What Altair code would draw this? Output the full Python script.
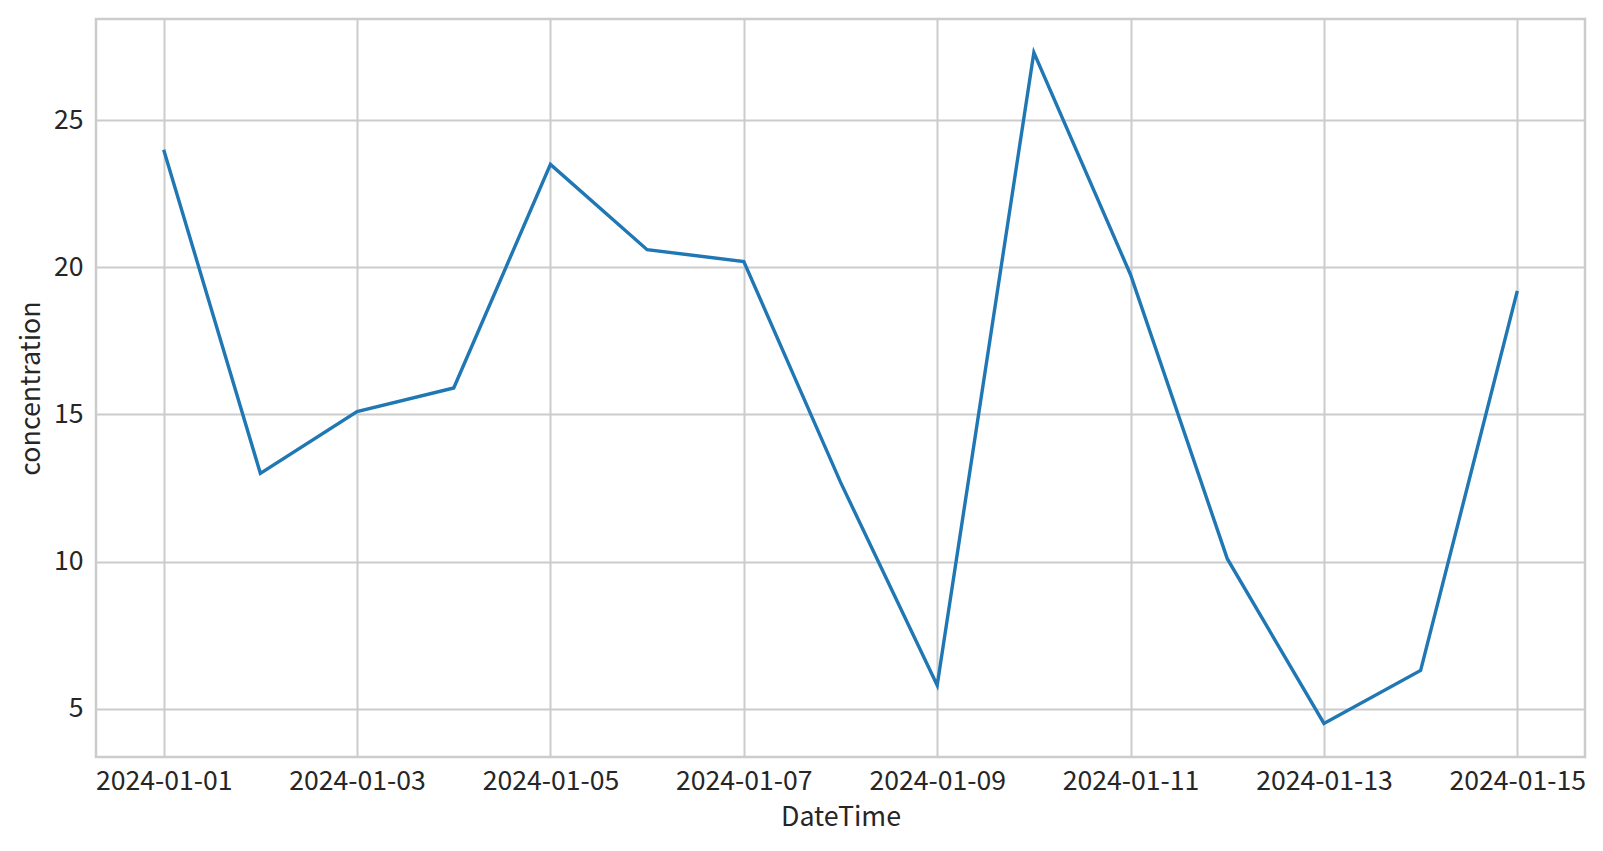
import altair as alt
import pandas as pd
from datetime import datetime, timezone, timedelta

dates = ["2024-01-01", "2024-01-02", "2024-01-03", "2024-01-04", "2024-01-05",
         "2024-01-06", "2024-01-07", "2024-01-08", "2024-01-09", "2024-01-10",
         "2024-01-11", "2024-01-12", "2024-01-13", "2024-01-14", "2024-01-15"]
concentration = [24.0, 13.0, 15.1, 15.9, 23.5, 20.6, 20.2, 12.7, 5.8, 27.3,
                 19.75, 10.1, 4.5, 6.3, 19.2]
x_ticks = ["2024-01-01", "2024-01-03", "2024-01-05", "2024-01-07",
           "2024-01-09", "2024-01-11", "2024-01-13", "2024-01-15"]
y_ticks = [5, 10, 15, 20, 25]

df = pd.DataFrame({"DateTime": dates, "concentration": concentration})


def ms(d):
    return int(d.timestamp() * 1000)


d0 = datetime(2024, 1, 1, tzinfo=timezone.utc)
d1 = datetime(2024, 1, 15, tzinfo=timezone.utc)
pad = timedelta(days=0.7)
x_domain = [ms(d0 - pad), ms(d1 + pad)]
tick_ms = [ms(datetime.strptime(t, "%Y-%m-%d").replace(tzinfo=timezone.utc)) for t in x_ticks]

vmin, vmax = min(concentration), max(concentration)
m = (vmax - vmin) * 0.05
y_domain = [vmin - m, vmax + m]

FONT = "Noto Sans CJK JP"
TXT = "#262626"
GRID = "#cccccc"

chart = alt.Chart(df).mark_line(color="#1f77b4", strokeWidth=3.4).encode(
    x=alt.X("DateTime:T",
            scale=alt.Scale(type="utc", domain=x_domain, nice=False),
            axis=alt.Axis(values=tick_ms,
                          labelExpr="utcFormat(datum.value, '%Y-%m-%d')",
                          title="DateTime", labelPadding=11, titlePadding=10)),
    y=alt.Y("concentration:Q",
            scale=alt.Scale(domain=y_domain, nice=False, zero=False),
            axis=alt.Axis(values=y_ticks, title="concentration",
                          labelPadding=13, titlePadding=8)),
).properties(
    width=1489, height=738,
    autosize=alt.AutoSizeParams(type="none"),
    padding={"left": 88, "top": 11, "right": 7, "bottom": 80},
).configure_view(
    stroke=GRID, strokeWidth=2.5
).configure_axis(
    domain=False, ticks=False, tickSize=0,
    grid=True, gridColor=GRID, gridWidth=2,
    labelFont=FONT, labelFontSize=26.6, labelColor=TXT,
    titleFont=FONT, titleFontSize=26.8, titleColor=TXT, titleFontWeight="normal",
    labelFlush=False, labelOverlap=False,
)

chart.save("out.html", embed_options={"renderer": "svg", "actions": False})
